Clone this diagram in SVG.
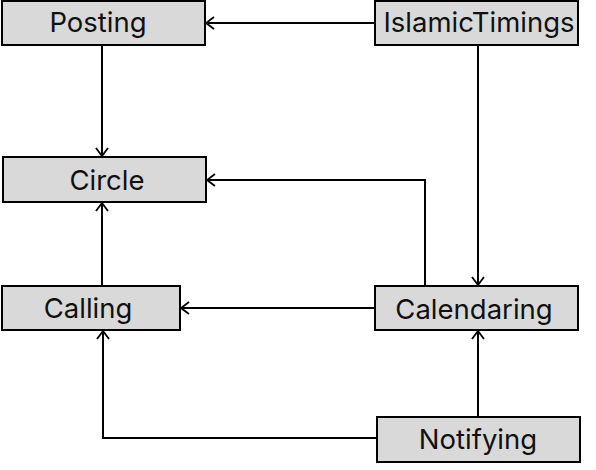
<svg xmlns="http://www.w3.org/2000/svg" width="596" height="470" viewBox="0 0 596 470">
  <style>
    .box { fill: #d9d9d9; stroke: #000; stroke-width: 2; }
    .lbl { font-family: Inter, "Liberation Sans", sans-serif; font-size: 27.5px; fill: #111; text-anchor: middle; dominant-baseline: central; }
    .edge { fill: none; stroke: #000; stroke-width: 2; marker-end: url(#arr); }
  </style>
  <defs>
    <marker id="arr" viewBox="0 0 10 14" refX="9" refY="7" markerWidth="10" markerHeight="14" markerUnits="userSpaceOnUse" orient="auto">
      <path d="M1,1 L9,7 L1,13" fill="none" stroke="#000" stroke-width="1.8"/>
    </marker>
  </defs>

  <g id="connectors">
    <path class="edge" d="M375,23 H206"/>
    <path class="edge" d="M102,46 V156"/>
    <path class="edge" d="M478,46 V285"/>
    <path class="edge" d="M425,286 V180 H207"/>
    <path class="edge" d="M102,286 V203"/>
    <path class="edge" d="M375,308 H181"/>
    <path class="edge" d="M478,417 V331"/>
    <path class="edge" d="M376,438 H103 V331"/>
  </g>

  <g id="Posting">
    <rect class="box" x="2" y="1" width="203" height="44"/>
    <text class="lbl" x="98" y="22">Posting</text>
  </g>
  <g id="IslamicTimings">
    <rect class="box" x="375" y="1" width="203" height="44"/>
    <text class="lbl" x="479" y="22">IslamicTimings</text>
  </g>
  <g id="Circle">
    <rect class="box" x="3" y="157" width="203" height="45"/>
    <text class="lbl" x="107" y="180">Circle</text>
  </g>
  <g id="Calling">
    <rect class="box" x="2" y="286" width="178" height="44"/>
    <text class="lbl" x="88" y="308">Calling</text>
  </g>
  <g id="Calendaring">
    <rect class="box" x="375" y="286" width="203" height="44"/>
    <text class="lbl" x="474" y="309">Calendaring</text>
  </g>
  <g id="Notifying">
    <rect class="box" x="377" y="417" width="203" height="45"/>
    <text class="lbl" x="478" y="439">Notifying</text>
  </g>
</svg>
